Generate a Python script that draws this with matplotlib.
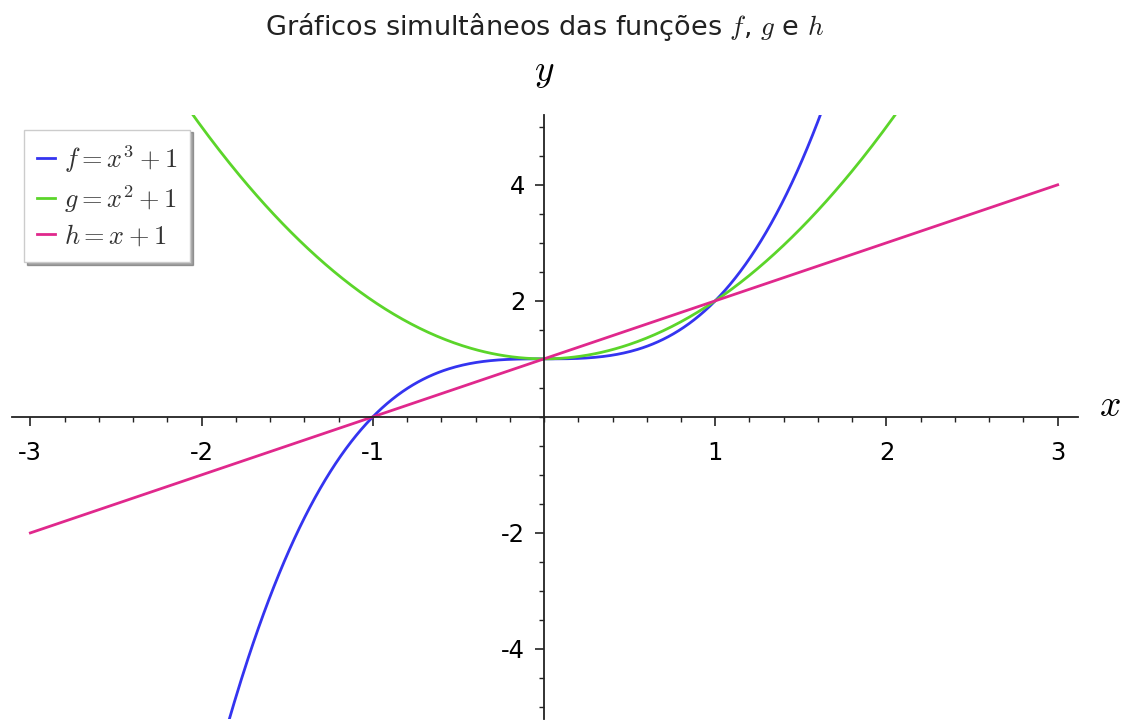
import numpy as np
import matplotlib
matplotlib.use("Agg")
import matplotlib.pyplot as plt
from matplotlib.ticker import MultipleLocator

plt.rcParams["mathtext.fontset"] = "cm"
plt.rcParams["axes.unicode_minus"] = False

# domain and the three functions
x_min, x_max = -3, 3
labels = [r"$f=x^3+1$", r"$g=x^2+1$", r"$h=x+1$"]
colors = ["#3434f0", "#5bd52a", "#e0288c"]
powers = [3, 2, 1]
xticks = [-3, -2, -1, 1, 2, 3]
yticks = [-4, -2, 2, 4]

xs = np.linspace(x_min, x_max, 600)

fig = plt.figure(figsize=(11.26, 7.2), dpi=100)
ax = fig.add_axes([0.0107, 0.002, 0.9464, 0.838])

for p, c, lab in zip(powers, colors, labels):
    ax.plot(xs, xs**p + 1, color=c, lw=2.0, label=lab)

ax.set_xlim(-3.107, 3.117)
ax.set_ylim(-5.2, 5.2)

# axes through the origin
ax.spines["left"].set_position(("data", 0))
ax.spines["bottom"].set_position(("data", 0))
ax.spines["top"].set_visible(False)
ax.spines["right"].set_visible(False)
for s in ("left", "bottom"):
    ax.spines[s].set_linewidth(1.3)
    ax.spines[s].set_color("#222222")

ax.xaxis.set_minor_locator(MultipleLocator(0.2))
ax.yaxis.set_minor_locator(MultipleLocator(0.5))
ax.set_xticks(xticks)
ax.set_yticks(yticks)
ax.tick_params(which="major", direction="out", length=6.5, width=1.2,
               labelsize=17.5, color="#222222")
ax.tick_params(which="minor", direction="out", length=3.5, width=1.0,
               color="#222222")
ax.tick_params(axis="x", which="major", pad=11)
ax.tick_params(axis="y", which="major", pad=7)

fig.text(1110 / 1126, 1 - 406 / 720, r"$x$", fontsize=27, ha="center", va="center")
fig.text(544 / 1126, 1 - 72 / 720, r"$y$", fontsize=27, ha="center", va="center")
fig.text(545 / 1126, 1 - 27 / 720,
         "Gráficos simultâneos das funções $f$, $g$ e $h$",
         fontsize=19.5, ha="center", va="center", color="#222222")

leg = ax.legend(loc="upper left", bbox_to_anchor=(0.0115, 0.976), fontsize=19,
                handlelength=0.65, handletextpad=0.35, labelspacing=0.32,
                borderpad=0.5, borderaxespad=0.0, shadow=True, fancybox=False,
                framealpha=1)
leg.get_frame().set_edgecolor("#cccccc")
leg.get_frame().set_linewidth(1.0)
for t in leg.get_texts():
    t.set_color("#333333")

fig.savefig("out.png", dpi=100)
